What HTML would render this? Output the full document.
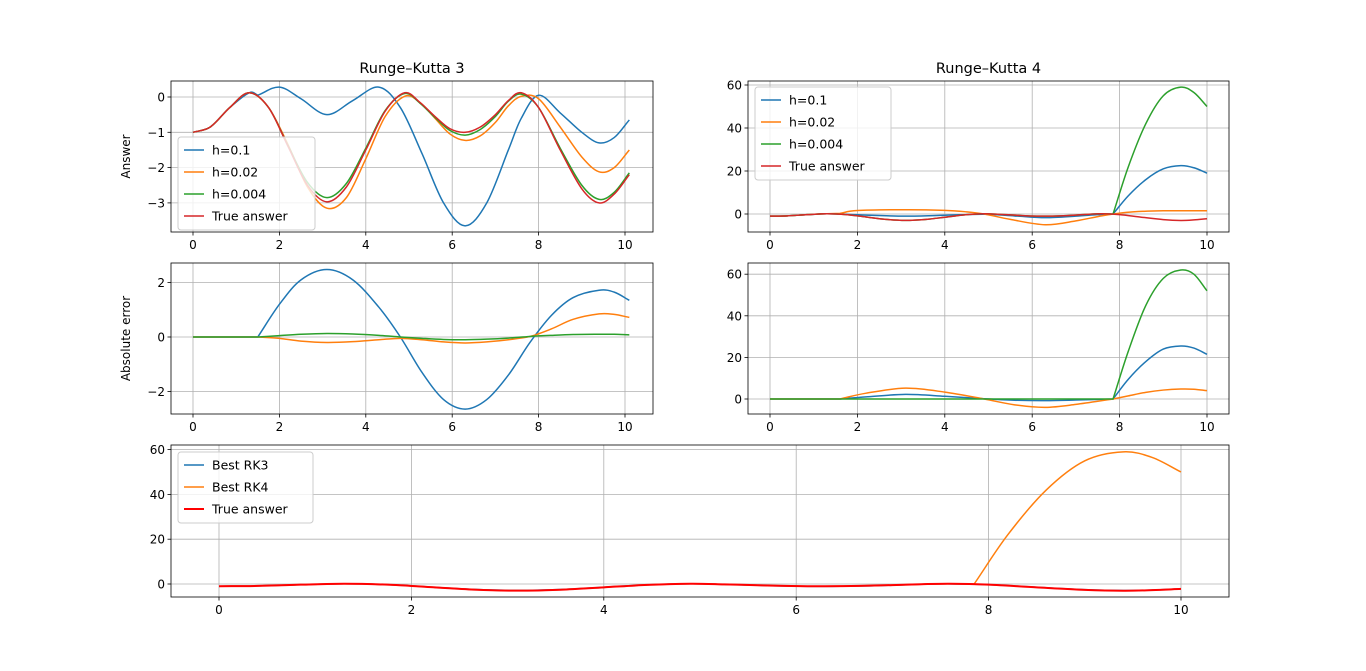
<!DOCTYPE html>
<html><head><meta charset="utf-8">
<style>
html,body{margin:0;padding:0;background:#fff;}
svg{display:block;font-family:"DejaVu Sans","Liberation Sans",sans-serif;}
</style></head>
<body>
<svg id="chart" width="1366" height="671" viewBox="0 0 1366 671" xmlns="http://www.w3.org/2000/svg">
<rect width="1366" height="671" fill="#fff"/>
</svg>
<script>
// ---------- data ----------
const xTicksSmall = [0,2,4,6,8,10];
// RK3 answers
const trueX   = [0,0.4,0.85,1.3,1.75,2.2,2.65,3.1,3.55,4.0,4.45,4.9,5.25,5.6,5.95,6.3,6.65,7.0,7.3,7.6,8.0,8.5,9.0,9.4,9.75,10.1];
const trueY   = [-1,-0.85,-0.3,0.12,-0.3,-1.4,-2.5,-2.97,-2.55,-1.5,-0.4,0.12,-0.15,-0.55,-0.9,-1.0,-0.85,-0.5,-0.1,0.12,-0.3,-1.5,-2.6,-3.0,-2.75,-2.2];
const rk3H0004= [-1,-0.85,-0.3,0.12,-0.3,-1.38,-2.42,-2.85,-2.45,-1.45,-0.38,0.1,-0.17,-0.58,-0.95,-1.08,-0.92,-0.55,-0.12,0.08,-0.3,-1.45,-2.5,-2.9,-2.7,-2.15];
const rk3H002 = [-1,-0.85,-0.3,0.12,-0.3,-1.35,-2.55,-3.15,-2.85,-1.75,-0.55,0.02,-0.15,-0.6,-1.05,-1.23,-1.1,-0.72,-0.25,0.02,-0.05,-0.85,-1.7,-2.12,-2.0,-1.5];
const rk3BlueX= [0,0.4,0.85,1.3,1.5,2.0,2.5,3.1,3.7,4.3,4.8,5.3,5.8,6.3,6.8,7.3,7.6,8.0,8.5,9.0,9.4,9.75,10.1];
const rk3H01  = [-1,-0.85,-0.3,0.12,0.05,0.28,-0.05,-0.5,-0.1,0.28,-0.3,-1.6,-3.0,-3.65,-3.0,-1.5,-0.6,0.05,-0.45,-1.0,-1.3,-1.15,-0.65];
// RK3 errors
const err3X    = [0,1.5,2.0,2.5,3.1,3.7,4.3,4.8,5.3,5.8,6.3,6.8,7.3,7.8,8.3,8.8,9.4,9.75,10.1];
const err3H01  = [0,0,1.2,2.1,2.48,2.1,1.1,0,-1.3,-2.3,-2.65,-2.3,-1.4,-0.2,0.8,1.45,1.72,1.65,1.35];
const err3H002 = [0,0,-0.05,-0.15,-0.2,-0.17,-0.1,-0.05,-0.1,-0.18,-0.22,-0.18,-0.1,0.02,0.3,0.65,0.85,0.83,0.72];
const err3H0004= [0,0,0.05,0.1,0.13,0.11,0.06,0,-0.05,-0.09,-0.1,-0.08,-0.04,0.02,0.06,0.09,0.1,0.1,0.08];
// RK4 answers
const true4X  = [0,0.4,0.85,1.3,1.75,2.2,2.65,3.1,3.55,4.0,4.45,4.9,5.25,5.6,5.95,6.3,6.65,7.0,7.3,7.6,8.0,8.5,9.0,9.4,9.7,10];
const true4Y  = [-1,-0.85,-0.3,0.12,-0.3,-1.4,-2.5,-2.97,-2.55,-1.5,-0.4,0.12,-0.15,-0.55,-0.9,-1.0,-0.85,-0.5,-0.1,0.12,-0.3,-1.5,-2.6,-3.0,-2.75,-2.2];
const rk4GreenX = [0,0.4,0.85,1.3,1.75,2.2,2.65,3.1,3.55,4.0,4.45,4.9,5.25,5.6,5.95,6.3,6.65,7.0,7.3,7.6,7.85,8.2,8.6,9.0,9.4,9.7,10];
const rk4H0004  = [-1,-0.85,-0.3,0.12,-0.3,-1.4,-2.5,-2.97,-2.55,-1.5,-0.4,0.12,-0.15,-0.55,-0.9,-1.0,-0.85,-0.5,-0.1,0.12,0,22,42,55,59,56.5,50];
const rk4BlueX  = [0,0.4,0.85,1.3,1.6,2.2,3.1,4.0,4.9,5.6,6.3,7.0,7.5,7.85,8.2,8.6,9.0,9.4,9.7,10];
const rk4H01    = [-1,-0.85,-0.3,0.12,0,-0.5,-1.0,-0.6,-0.1,-0.9,-1.7,-1.0,-0.3,0,8.5,16,21,22.5,21.5,19];
const rk4OrangeX= [0,0.4,0.85,1.3,1.6,2.0,3.1,4.0,4.5,4.9,5.5,6.3,7.0,7.5,7.85,8.3,9.0,10];
const rk4H002   = [-1,-0.85,-0.3,0.12,0.3,1.6,2.0,1.7,1.0,0,-2.5,-5.0,-3.2,-1.2,0,1.0,1.5,1.5];
// RK4 errors
const err4X    = [0,1.6,2.2,3.1,4.0,4.9,5.6,6.3,7.0,7.85,8.2,8.6,9.0,9.4,9.7,10];
const err4H01  = [0,0,1.0,2.2,1.3,0.1,-0.6,-0.8,-0.5,0,9.5,18,24,25.5,24.5,21.5];
const err4H002 = [0,0,2.8,5.2,3.3,0,-2.8,-4.0,-2.6,0,1.5,3.2,4.3,4.8,4.7,4.0];
const err4GX   = [0,7.85,8.2,8.6,9.0,9.4,9.7,10];
const err4H0004= [0,0,23,45,58,62,60,52];

// ---------- helpers ----------
const NS = "http://www.w3.org/2000/svg";
const svg = document.getElementById('chart');
function mk(tag, attrs, parent){ const e=document.createElementNS(NS,tag); for(const k in attrs) e.setAttribute(k,attrs[k]); (parent||svg).appendChild(e); return e; }
const C = {blue:'#1f77b4',orange:'#ff7f0e',green:'#2ca02c',red:'#d62728'};
const KINKS = [1.5,1.6,7.85];

function crPath(dx, px, py){
  const n=px.length, isK=i=>KINKS.indexOf(dx[i])>=0;
  function tan(i, side){ // side -1 incoming, +1 outgoing
    if(i===0) return [(px[1]-px[0]),(py[1]-py[0])];
    if(i===n-1) return [(px[n-1]-px[n-2]),(py[n-1]-py[n-2])];
    if(isK(i)) return side<0 ? [(px[i]-px[i-1]),(py[i]-py[i-1])] : [(px[i+1]-px[i]),(py[i+1]-py[i])];
    return [(px[i+1]-px[i-1])/2,(py[i+1]-py[i-1])/2];
  }
  let p='M'+px[0].toFixed(2)+','+py[0].toFixed(2);
  for(let i=0;i<n-1;i++){
    const t0=tan(i,1), t1=tan(i+1,-1);
    p+=' C'+(px[i]+t0[0]/3).toFixed(2)+','+(py[i]+t0[1]/3).toFixed(2)+' '+(px[i+1]-t1[0]/3).toFixed(2)+','+(py[i+1]-t1[1]/3).toFixed(2)+' '+px[i+1].toFixed(2)+','+py[i+1].toFixed(2);
  }
  return p;
}

function axes(cfg){
  const g = mk('g',{});
  
  
  const X = v => cfg.x0 + v*cfg.xs, Y = v => cfg.y0 - v*cfg.ys;
  cfg.xticks.forEach(t=>{ const gl=mk('line',{x1:X(t),x2:X(t),y1:cfg.top,y2:cfg.bottom,stroke:'#b0b0b0','stroke-width':0.8},g);
      });
  cfg.yticks.forEach(t=>{ const gl=mk('line',{x1:cfg.left,x2:cfg.right,y1:Y(t),y2:Y(t),stroke:'#b0b0b0','stroke-width':0.8},g);
      });
  const clip = 'clip-'+cfg.name;
  const cp = mk('clipPath',{id:clip},g); mk('rect',{x:cfg.left,y:cfg.top,width:cfg.right-cfg.left,height:cfg.bottom-cfg.top},cp);
  cfg.series.forEach(s=>{
    const p = mk('path',{d:crPath(s.x, s.x.map(X), s.y.map(Y)),fill:'none',stroke:s.color,'stroke-width':s.w||1.5,'clip-path':'url(#'+clip+')'},g);
    
    
  });
  const fr = mk('rect',{x:cfg.left,y:cfg.top,width:cfg.right-cfg.left,height:cfg.bottom-cfg.top,fill:'none',stroke:'#000','stroke-width':0.8},g);
   
  cfg.xticks.forEach(t=>{ mk('line',{x1:X(t),x2:X(t),y1:cfg.bottom,y2:cfg.bottom+3.5,stroke:'#000','stroke-width':0.8},g);
    const tx=mk('text',{x:X(t),y:cfg.bottom+17,'text-anchor':'middle','font-size':12,fill:'#000'},g); tx.textContent=t;
      });
  cfg.yticks.forEach(t=>{ mk('line',{x1:cfg.left-3.5,x2:cfg.left,y1:Y(t),y2:Y(t),stroke:'#000','stroke-width':0.8},g);
    const tx=mk('text',{x:cfg.left-6,y:Y(t)+4.5,'text-anchor':'end','font-size':12,fill:'#000'},g); tx.textContent=(t<0?'\u2212'+(-t):t);
      });
  if(cfg.title){ const tt=mk('text',{x:(cfg.left+cfg.right)/2,y:cfg.top-8,'text-anchor':'middle','font-size':14.5,fill:'#000'},g); tt.textContent=cfg.title;
      }
  if(cfg.ylabel){ const cy=(cfg.top+cfg.bottom)/2; const yl=mk('text',{x:0,y:0,transform:'translate('+(cfg.left-41)+','+cy+') rotate(-90)','text-anchor':'middle','font-size':12,fill:'#000'},g); yl.textContent=cfg.ylabel;
      }
  if(cfg.legend){ const L=cfg.legend;
    const lg=mk('g',{},g);  
    mk('rect',{x:L.x,y:L.y,width:L.w,height:cfg.series.length*22+5,rx:3,fill:'#fff','fill-opacity':0.8,stroke:'#ccc','stroke-width':1},lg);
    cfg.series.forEach((s,i)=>{ const ey=L.y+13+i*22;
      const le=mk('g',{},lg);  
      mk('line',{x1:L.x+6,x2:L.x+26,y1:ey,y2:ey,stroke:s.color,'stroke-width':s.w||1.5},le);
      const t=mk('text',{x:L.x+34,y:ey+4.5,'font-size':12.5,fill:'#000'},le); t.textContent=s.label; });
  }
}

axes({name:'rk3-answer-plot',title:'Runge\u2013Kutta 3',ylabel:'Answer',left:171,right:653,top:81,bottom:232,x0:193,xs:43.2,y0:97,ys:35.3,
  xticks:xTicksSmall,yticks:[0,-1,-2,-3],legend:{x:178,y:137,w:137},
  series:[{key:'rk3-h0.1',label:'h=0.1',x:rk3BlueX,y:rk3H01,color:C.blue},{key:'rk3-h0.02',label:'h=0.02',x:trueX,y:rk3H002,color:C.orange},
          {key:'rk3-h0.004',label:'h=0.004',x:trueX,y:rk3H0004,color:C.green},{key:'rk3-true',label:'True answer',x:trueX,y:trueY,color:C.red}]});
axes({name:'rk4-answer-plot',title:'Runge\u2013Kutta 4',left:748,right:1229,top:81,bottom:232,x0:770,xs:43.7,y0:214,ys:2.15,
  xticks:xTicksSmall,yticks:[0,20,40,60],legend:{x:755,y:87,w:136},
  series:[{key:'rk4-h0.1',label:'h=0.1',x:rk4BlueX,y:rk4H01,color:C.blue},{key:'rk4-h0.02',label:'h=0.02',x:rk4OrangeX,y:rk4H002,color:C.orange},
          {key:'rk4-h0.004',label:'h=0.004',x:rk4GreenX,y:rk4H0004,color:C.green},{key:'rk4-true',label:'True answer',x:true4X,y:true4Y,color:C.red}]});
axes({name:'rk3-error-plot',ylabel:'Absolute error',left:171,right:653,top:263,bottom:414,x0:193,xs:43.2,y0:337,ys:27.2,
  xticks:xTicksSmall,yticks:[2,0,-2],
  series:[{key:'err3-h0.1',x:err3X,y:err3H01,color:C.blue},{key:'err3-h0.02',x:err3X,y:err3H002,color:C.orange},{key:'err3-h0.004',x:err3X,y:err3H0004,color:C.green}]});
axes({name:'rk4-error-plot',left:748,right:1229,top:263,bottom:414,x0:770,xs:43.7,y0:399,ys:2.08,
  xticks:xTicksSmall,yticks:[0,20,40,60],
  series:[{key:'err4-h0.1',x:err4X,y:err4H01,color:C.blue},{key:'err4-h0.02',x:err4X,y:err4H002,color:C.orange},{key:'err4-h0.004',x:err4GX,y:err4H0004,color:C.green}]});
axes({name:'best-comparison-plot',left:171,right:1229,top:445,bottom:597,x0:219,xs:96.2,y0:584,ys:2.24,
  xticks:xTicksSmall,yticks:[0,20,40,60],legend:{x:178,y:452,w:135},
  series:[{key:'best-rk3',label:'Best RK3',x:true4X,y:rk3H0004,color:C.blue},{key:'best-rk4',label:'Best RK4',x:rk4GreenX,y:rk4H0004,color:C.orange},
          {key:'bottom-true',label:'True answer',x:true4X,y:true4Y,color:'#ff0000',w:2}]});
</script>
</body></html>
